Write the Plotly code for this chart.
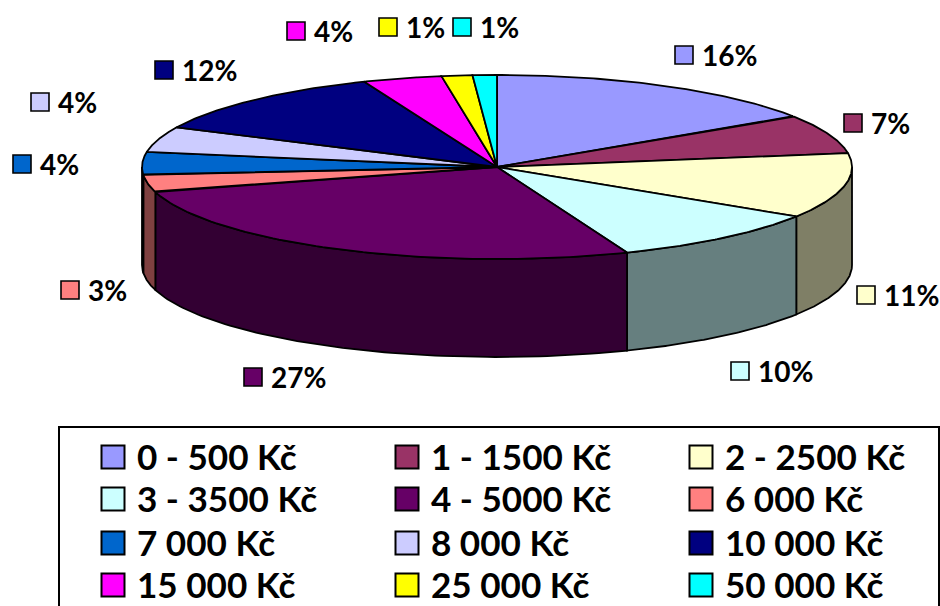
import numpy as np
import plotly.graph_objects as go

categories = ["0 - 500 Kč", "1 - 1500 Kč", "2 - 2500 Kč", "3 - 3500 Kč", "4 - 5000 Kč", "6 000 Kč",
              "7 000 Kč", "8 000 Kč", "10 000 Kč", "15 000 Kč", "25 000 Kč", "50 000 Kč"]
# estimated from the slice edges, labels show them rounded
values = [15.7, 6.9, 11.45, 10.0, 26.6, 3.0, 4.0, 4.49, 11.8, 3.6, 1.4, 1.1]
colors = ["#9999FF", "#993366", "#FFFFCC", "#CCFFFF", "#660066", "#FF8080",
          "#0066CC", "#CCCCFF", "#000080", "#FF00FF", "#FFFF00", "#00FFFF"]

# placement on the 940x606 page, in pixels
CX, CY, RX, RY, DEPTH = 497, 167, 355, 92, 98
label_x = [684, 853, 866, 740, 253, 70, 22, 40, 164, 296, 388, 462]
label_y = [55, 123, 295, 371, 377, 290, 164, 102, 70, 31, 27, 27]
legend_x = [113, 407, 701]
legend_y = [457, 499, 543, 585]
LABEL_GAP = 18
LEGEND_GAP = 24
TEXT_DROP = 4
FONT = "Lato"


def arc(t0, t1, dy=0):
    t = np.radians(np.linspace(t0, t1, 80))
    return CX + RX * np.sin(t), CY + dy - RY * np.cos(t)


def darker(hex_color):
    rgb = [int(hex_color[i:i + 2], 16) // 2 for i in (1, 3, 5)]
    return "rgb({},{},{})".format(*rgb)


def polygon(x, y, fill):
    return go.Scatter(x=np.append(x, x[0]), y=np.append(y, y[0]), mode="lines", fill="toself",
                      fillcolor=fill, line=dict(color="black", width=1.8),
                      hoverinfo="skip", showlegend=False)


def keys(x, y, size, width):
    return go.Scatter(x=x, y=y, mode="markers",
                      marker=dict(symbol="square", size=size, color=colors, line=dict(color="black", width=width)),
                      hoverinfo="skip", showlegend=False)


def texts(x, y, labels, size):
    return go.Scatter(x=x, y=[v + TEXT_DROP for v in y], mode="text", text=[f"<b>{s}</b>" for s in labels],
                      textposition="middle right", textfont=dict(family=FONT, size=size, color="black"),
                      hoverinfo="skip", showlegend=False)


edges = np.cumsum([0] + values) / sum(values) * 360
fig = go.Figure()

# side wall, only the front half of the cake shows
for i, c in enumerate(colors):
    t0, t1 = max(edges[i], 90), min(edges[i + 1], 270)
    if t0 < t1:
        xt, yt = arc(t0, t1)
        xb, yb = arc(t1, t0, DEPTH)
        fig.add_trace(polygon(np.concatenate([xt, xb]), np.concatenate([yt, yb]), darker(c)))

# top face
for i, c in enumerate(colors):
    xa, ya = arc(edges[i], edges[i + 1])
    fig.add_trace(polygon(np.concatenate([[CX], xa]), np.concatenate([[CY], ya]), c))

# data labels
fig.add_trace(keys(label_x, label_y, 18, 1.6))
fig.add_trace(texts([x + LABEL_GAP for x in label_x], label_y, [f"{round(v)}%" for v in values], 28))

# legend
lx = [legend_x[i % 3] for i in range(len(categories))]
ly = [legend_y[i // 3] for i in range(len(categories))]
fig.add_trace(keys(lx, ly, 23, 2))
fig.add_trace(texts([x + LEGEND_GAP for x in lx], ly, categories, 35.1))

fig.update_layout(
    width=940, height=606, margin=dict(l=0, r=0, t=0, b=0),
    paper_bgcolor="white", plot_bgcolor="white", showlegend=False,
    xaxis=dict(range=[0, 940], visible=False, fixedrange=True),
    yaxis=dict(range=[606, 0], visible=False, fixedrange=True),
    shapes=[dict(type="rect", x0=59, x1=939, y0=427, y1=620,
                 line=dict(color="black", width=2), fillcolor="rgba(0,0,0,0)", layer="below")],
)

fig.write_html("out.html", config=dict(displayModeBar=False), post_script="document.body.style.margin='0';")
